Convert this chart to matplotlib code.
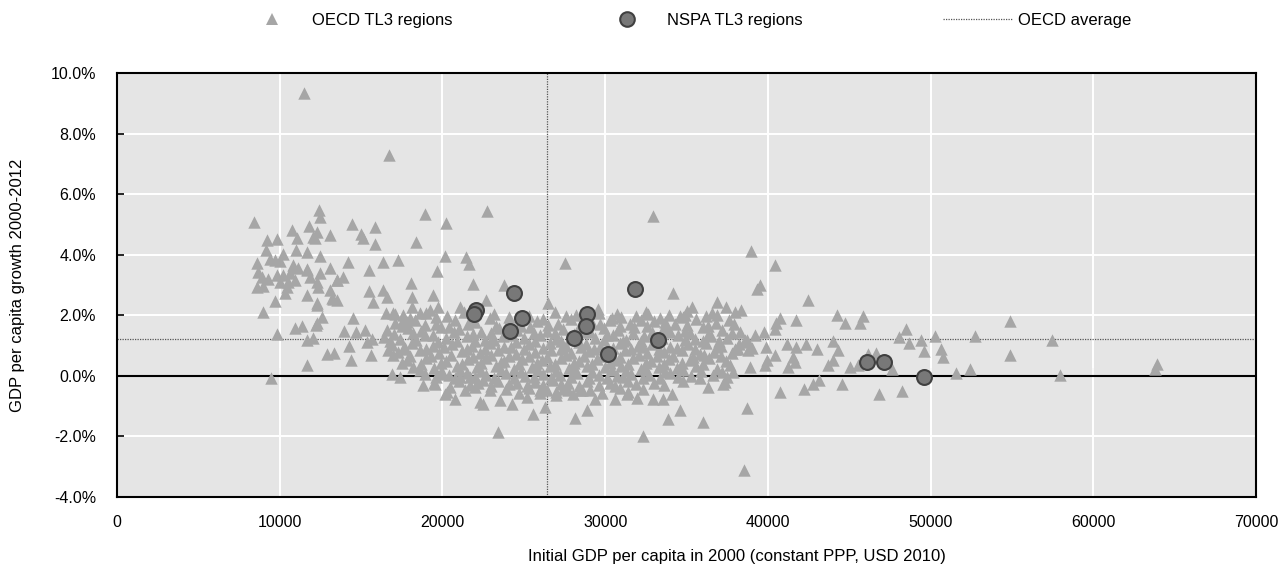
import numpy as np
import matplotlib
matplotlib.use("Agg")
import matplotlib.pyplot as plt
from matplotlib.ticker import FuncFormatter
from matplotlib.lines import Line2D

plt.rcParams['font.family'] = ['Liberation Sans', 'DejaVu Sans']
plt.rcParams['axes.unicode_minus'] = False

# OECD TL3 regions: (initial GDP per capita 2000 in thousand USD, growth 2000-2012 in %)
oecd_sparse = [
    (11.5, 9.33), (16.7, 7.29), (8.42, 5.08), (12.41, 5.47), (12.47, 5.25), (11.8, 4.95),
    (14.45, 5.03), (15.85, 4.90), (14.97, 4.70), (15.13, 4.54), (15.85, 4.37), (10.73, 4.81),
    (13.09, 4.66), (12.27, 4.76), (12.17, 4.54), (9.2, 4.48), (9.81, 4.51), (11.04, 4.54),
    (12.06, 4.58), (9.13, 4.14), (10.98, 4.16), (11.65, 4.09), (12.47, 3.95), (16.36, 3.76),
    (17.24, 3.83), (14.21, 3.76), (15.5, 3.48), (13.09, 3.56), (8.58, 3.71), (10.02, 3.80),
    (11.65, 3.54), (10.83, 3.60), (10.22, 4.04), (18.9, 5.36), (20.23, 5.06), (22.71, 5.45),
    (18.37, 4.42), (20.15, 3.96), (21.44, 3.93), (21.65, 3.70), (19.64, 3.45), (32.95, 5.29),
    (27.54, 3.72), (38.95, 4.13), (40.45, 3.65), (8.68, 3.43), (8.89, 3.27), (9.4, 3.87),
    (9.71, 3.82), (10.8, 3.65), (11.14, 3.56), (11.7, 3.49), (12.47, 3.38), (13.54, 3.18),
    (13.91, 3.25), (9.3, 3.21), (9.81, 3.32), (10.22, 3.32), (10.63, 3.38), (10.02, 3.10),
    (10.53, 3.10), (10.94, 3.16), (8.58, 2.94), (8.99, 2.96), (10.42, 2.94), (11.86, 3.27),
    (12.31, 3.10), (12.35, 2.94), (11.7, 2.66), (13.09, 2.83), (13.19, 2.58), (13.5, 2.50),
    (10.32, 2.72), (9.71, 2.46), (8.99, 2.11), (12.31, 2.35), (12.58, 1.94), (12.23, 1.69),
    (14.5, 1.92), (15.5, 2.79), (15.75, 2.44), (16.36, 2.83), (16.57, 2.61), (16.51, 2.08),
    (17.08, 2.03), (18.06, 3.05), (18.1, 2.61), (19.4, 2.66), (21.89, 3.02), (18.1, 2.27),
    (18.62, 2.06), (19.23, 2.17), (19.74, 2.27), (21.1, 2.27), (17.8, 1.78), (9.85, 1.38),
    (10.94, 1.59), (11.35, 1.65), (11.7, 1.20), (12.06, 1.26), (12.89, 0.73), (13.33, 0.75),
    (13.95, 1.48), (14.27, 0.98), (14.36, 0.51), (14.68, 1.45), (15.24, 1.50), (15.34, 1.12),
    (15.65, 1.23), (15.58, 0.70), (11.7, 0.35), (9.44, -0.06), (16.88, 0.07), (17.39, -0.04),
    (16.67, 0.84), (16.98, 0.68), (17.59, 0.90), (12.27, 1.73), (12.27, 2.39), (13.29, 2.55),
    (13.5, 3.16), (22.67, 2.50), (23.78, 2.99), (26.5, 2.41), (34.18, 2.72), (35.31, 2.27),
    (36.88, 2.44), (37.42, 2.27), (29.57, 2.22), (30.7, 2.03), (32.64, 2.03), (33.67, 1.78),
    (34.8, 1.94), (36.54, 2.06), (37.97, 2.11), (16.98, 2.06), (17.59, 1.83), (34.9, 2.0),
]

oecd_low = [
    (23.43, -1.86), (25.58, -1.25), (26.3, -1.03), (28.14, -1.38), (28.86, -1.14), (30.6, -0.75),
    (32.34, -1.97), (33.87, -1.42), (34.59, -1.14), (36.03, -1.53), (24.25, -0.92), (23.53, -0.81),
    (22.51, -0.92), (22.92, -0.48), (25.17, -0.70), (27.01, -0.64), (27.73, -0.48), (29.37, -0.75),
    (31.32, -0.59), (31.93, -0.72), (32.95, -0.75), (33.53, -0.75), (34.08, -0.59), (36.33, -0.37),
    (37.36, -0.20), (25.99, -0.48), (28.45, -0.48), (29.06, -0.48), (18.78, -0.31), (19.48, -0.24),
    (20.26, -0.53), (20.77, -0.75), (21.38, -0.46), (22.0, -0.37), (22.3, -0.87), (21.07, -0.04),
    (21.69, -0.04), (22.51, -0.15), (20.05, 0.07), (19.54, -0.26), (20.46, -0.37), (20.15, -0.59),
]

oecd_right = [
    (39.5, 2.99), (39.34, 2.88), (42.48, 2.50), (38.34, 2.17), (40.74, 1.92), (41.76, 1.83),
    (44.22, 2.0), (44.77, 1.75), (45.65, 1.73), (45.85, 1.97), (48.51, 1.56), (48.04, 1.28),
    (48.68, 1.08), (49.4, 1.17), (50.26, 1.31), (49.58, 0.81), (50.67, 0.90), (50.77, 0.62),
    (51.59, 0.09), (52.41, 0.21), (52.72, 1.31), (46.82, -0.59), (48.27, -0.50), (46.16, 0.73),
    (46.67, 0.75), (47.6, 0.24), (45.04, 0.29), (44.53, -0.26), (45.55, 0.35), (43.7, 0.35),
    (44.01, 0.51), (44.32, 0.84), (44.01, 1.15), (43.03, 0.90), (42.37, 1.06), (41.76, 0.95),
    (41.15, 1.06), (41.56, 0.62), (41.66, 0.46), (41.25, 0.29), (40.43, 0.68), (39.92, 0.51),
    (39.81, 0.35), (39.87, 0.95), (39.75, 1.45), (40.43, 1.56), (40.53, 1.73), (38.59, 1.17),
    (38.79, 0.84), (38.18, 0.90), (38.89, 0.29), (37.87, 0.13), (37.46, -0.04), (37.25, -0.26),
    (40.74, -0.53), (42.23, -0.42), (42.78, -0.26), (43.15, -0.15), (38.73, -1.06), (38.52, -3.10),
    (54.87, 1.81), (57.49, 1.20), (54.87, 0.68), (57.96, 0.02), (63.9, 0.40), (63.79, 0.21),
]

oecd_band = [
    (17.6, 2.02), (19.0, 2.08), (20.3, 1.98), (21.3, 2.10), (23.2, 2.04), (25.3, 1.96), (26.9, 2.12),
    (28.2, 2.00), (29.6, 2.06), (31.0, 1.95), (32.5, 2.10), (33.9, 2.02), (35.0, 2.14), (36.2, 1.98),
    (17.1, 1.76), (18.3, 1.84), (19.6, 1.72), (20.8, 1.86), (22.0, 1.78), (22.9, 1.90), (24.0, 1.74),
    (25.8, 1.82), (27.1, 1.70), (27.9, 1.88), (29.2, 1.76), (30.3, 1.84), (31.5, 1.72), (32.2, 1.86),
    (33.0, 1.80), (34.3, 1.70), (35.6, 1.88), (36.8, 1.76), (37.6, 1.84),
    (16.6, 1.52), (17.9, 1.58), (18.7, 1.48), (19.9, 1.60), (21.0, 1.54), (22.4, 1.46), (23.5, 1.58),
    (24.6, 1.50), (25.4, 1.62), (26.4, 1.48), (27.4, 1.56), (28.6, 1.44), (29.9, 1.58), (30.8, 1.50),
    (31.8, 1.60), (32.9, 1.46), (33.8, 1.56), (34.9, 1.48), (36.0, 1.60), (37.2, 1.52), (38.3, 1.44),
    (16.4, 1.28), (17.4, 1.22), (18.9, 1.34), (20.2, 1.26), (21.5, 1.32), (22.6, 1.20), (23.7, 1.30),
    (25.0, 1.24), (26.0, 1.36), (27.0, 1.22), (28.0, 1.32), (29.4, 1.26), (30.5, 1.34), (31.3, 1.20),
    (32.4, 1.30), (33.5, 1.24), (34.5, 1.36), (35.5, 1.22), (36.5, 1.30), (37.5, 1.26), (38.7, 1.18),
    (16.9, 1.02), (18.1, 1.08), (19.4, 0.98), (20.6, 1.06), (21.8, 1.00), (22.9, 1.10), (24.2, 0.96),
    (25.3, 1.04), (26.6, 1.10), (27.6, 0.98), (28.8, 1.06), (29.7, 0.96), (30.9, 1.08), (32.0, 1.00),
    (32.9, 1.06), (34.0, 0.96), (35.1, 1.04), (36.2, 1.10), (37.1, 0.98), (38.2, 1.04), (39.0, 0.92),
    (17.3, 0.78), (18.6, 0.84), (19.8, 0.74), (21.2, 0.82), (22.3, 0.76), (23.4, 0.86), (24.5, 0.72),
    (25.7, 0.80), (26.7, 0.84), (27.9, 0.74), (29.0, 0.82), (30.1, 0.78), (31.2, 0.86), (32.6, 0.74),
    (33.6, 0.80), (34.7, 0.84), (35.8, 0.72), (36.7, 0.80), (37.8, 0.76),
    (17.8, 0.54), (19.0, 0.58), (20.2, 0.50), (21.6, 0.56), (22.7, 0.60), (23.8, 0.50), (24.9, 0.56),
    (26.1, 0.52), (27.3, 0.60), (28.4, 0.48), (29.5, 0.56), (30.6, 0.52), (31.7, 0.58), (32.8, 0.50),
    (33.9, 0.56), (35.2, 0.52), (36.4, 0.58), (37.4, 0.48),
    (18.2, 0.30), (19.5, 0.26), (20.9, 0.34), (22.1, 0.28), (23.3, 0.32), (24.4, 0.24), (25.5, 0.30),
    (26.6, 0.34), (27.8, 0.26), (28.9, 0.32), (30.0, 0.28), (31.0, 0.34), (32.2, 0.24), (33.3, 0.30),
    (34.4, 0.26), (35.6, 0.32), (36.9, 0.22),
    (18.9, 0.06), (20.4, 0.02), (21.5, 0.08), (22.7, 0.04), (23.9, 0.10), (25.1, 0.00), (26.2, 0.06),
    (27.2, 0.02), (28.3, 0.08), (29.6, 0.04), (30.7, 0.00), (31.6, 0.06), (32.7, 0.02), (34.0, 0.08),
    (35.3, 0.00), (36.6, 0.04),
    (21.0, -0.18), (22.2, -0.22), (23.4, -0.16), (24.6, -0.24), (25.7, -0.20), (26.8, -0.14),
    (27.7, -0.22), (28.9, -0.18), (30.3, -0.24), (31.4, -0.16), (33.0, -0.22), (34.8, -0.18),
    (23.9, -0.44), (25.3, -0.40), (26.4, -0.48), (27.4, -0.42), (28.6, -0.46), (30.9, -0.40), (32.3, -0.44),
]

oecd_band_mid = [
    (18.0, 1.92), (19.6, 1.95), (21.8, 1.90), (24.1, 1.94), (26.2, 1.88), (27.6, 1.96), (30.4, 1.92),
    (31.9, 1.98), (33.4, 1.90), (34.6, 1.96), (36.9, 2.02),
    (17.5, 1.64), (18.9, 1.68), (20.4, 1.62), (21.6, 1.70), (23.3, 1.66), (24.8, 1.64), (26.5, 1.68),
    (28.4, 1.62), (29.7, 1.70), (30.9, 1.64), (32.6, 1.66), (33.6, 1.62), (35.0, 1.68), (36.3, 1.64),
    (37.9, 1.70),
    (17.0, 1.38), (18.2, 1.42), (19.4, 1.36), (20.7, 1.44), (21.9, 1.38), (23.0, 1.42), (24.3, 1.36),
    (25.6, 1.42), (26.9, 1.40), (28.1, 1.38), (29.1, 1.44), (30.1, 1.36), (31.7, 1.42), (32.9, 1.38),
    (34.0, 1.44), (35.2, 1.40), (36.3, 1.36), (37.8, 1.42), (39.2, 1.34),
    (16.8, 1.14), (18.4, 1.18), (19.7, 1.12), (20.9, 1.16), (22.0, 1.14), (23.2, 1.18), (24.5, 1.12),
    (25.7, 1.16), (27.3, 1.14), (28.4, 1.12), (29.9, 1.18), (31.1, 1.14), (32.2, 1.16), (33.1, 1.12),
    (34.9, 1.18), (36.0, 1.14), (37.0, 1.16), (38.6, 1.12),
    (17.7, 0.92), (19.0, 0.88), (20.1, 0.94), (21.5, 0.90), (22.6, 0.88), (23.8, 0.94), (25.0, 0.90),
    (26.2, 0.92), (27.3, 0.88), (28.5, 0.94), (29.3, 0.90), (30.5, 0.92), (31.6, 0.88), (32.3, 0.94),
    (33.3, 0.90), (34.4, 0.92), (35.5, 0.88), (36.9, 0.94), (38.0, 0.90),
    (18.0, 0.66), (19.3, 0.64), (20.5, 0.68), (21.9, 0.62), (23.0, 0.68), (24.1, 0.64), (25.3, 0.66),
    (26.4, 0.62), (27.6, 0.68), (28.7, 0.64), (29.8, 0.66), (30.9, 0.62), (32.1, 0.68), (33.2, 0.64),
    (34.2, 0.66), (35.4, 0.62), (36.1, 0.68), (37.1, 0.64),
    (17.5, 0.42), (18.7, 0.40), (19.9, 0.44), (21.2, 0.38), (22.4, 0.42), (23.6, 0.46), (24.7, 0.40),
    (25.8, 0.44), (26.9, 0.38), (28.1, 0.42), (29.2, 0.40), (30.3, 0.44), (31.4, 0.38), (32.5, 0.42),
    (33.6, 0.40), (34.7, 0.44), (36.0, 0.40), (37.7, 0.36),
    (18.6, 0.18), (19.9, 0.14), (21.1, 0.20), (22.4, 0.16), (23.6, 0.20), (24.8, 0.14), (25.9, 0.18),
    (27.0, 0.16), (28.1, 0.20), (29.2, 0.14), (30.4, 0.18), (31.3, 0.16), (32.5, 0.20), (33.7, 0.14),
    (34.8, 0.18), (35.9, 0.16), (37.2, 0.12),
    (19.6, -0.04), (20.8, -0.08), (22.0, -0.04), (23.2, -0.08), (24.4, -0.06), (25.6, -0.04),
    (26.7, -0.08), (27.9, -0.04), (29.0, -0.06), (30.1, -0.08), (31.1, -0.04), (32.3, -0.06),
    (33.4, -0.08), (34.5, -0.04), (35.8, -0.06),
    (21.7, -0.30), (23.0, -0.32), (24.1, -0.28), (25.2, -0.34), (26.2, -0.30), (27.3, -0.28),
    (28.4, -0.32), (29.6, -0.30), (30.6, -0.34), (31.9, -0.28), (33.6, -0.30),
    (24.7, -0.56), (26.0, -0.58), (27.0, -0.54), (28.0, -0.60), (29.8, -0.56), (31.4, -0.52),
]

# NSPA TL3 regions
nspa_gdp_k = [24.41, 22.04, 21.95, 24.90, 24.15, 28.86, 28.82, 28.10, 31.83, 30.19, 33.24, 46.10, 47.15, 49.61]
nspa_growth = [2.72, 2.17, 2.03, 1.91, 1.48, 2.04, 1.64, 1.26, 2.86, 0.72, 1.17, 0.47, 0.45, -0.05]

# OECD averages
oecd_avg_gdp = 26400
oecd_avg_growth = 1.22

x_ticks = [0, 10000, 20000, 30000, 40000, 50000, 60000, 70000]
y_ticks = [-4, -2, 0, 2, 4, 6, 8, 10]

oecd_all = oecd_sparse + oecd_low + oecd_right + oecd_band + oecd_band_mid
ox = np.array([p[0] for p in oecd_all]) * 1000
oy = np.array([p[1] for p in oecd_all])
nx = np.array(nspa_gdp_k) * 1000
ny = np.array(nspa_growth)

fig = plt.figure(figsize=(12.81, 5.70), dpi=100)
ax = fig.add_axes([117 / 1281, 1 - 497 / 570, (1256 - 117) / 1281, (497 - 73) / 570])
ax.set_facecolor('#e5e5e5')
ax.set_xlim(0, 70000)
ax.set_ylim(-4, 10)
ax.set_xticks(x_ticks)
ax.set_yticks(y_ticks)
ax.yaxis.set_major_formatter(FuncFormatter(lambda v, _: f"{v:.1f}%"))
ax.grid(color='white', linewidth=1.4)
ax.set_axisbelow(True)
for s in ax.spines.values():
    s.set_linewidth(1.5)
    s.set_color('black')

ax.axhline(0, color='black', linewidth=1.5, zorder=2)
ax.axvline(oecd_avg_gdp, color='#555555', linewidth=0.9, linestyle=(0, (1, 1)), zorder=2)
ax.axhline(oecd_avg_growth, color='#555555', linewidth=0.9, linestyle=(0, (1, 1)), zorder=2)

ax.scatter(ox, oy, marker='^', s=80, color='#a6a6a6', linewidths=0, zorder=3)
ax.scatter(nx, ny, marker='o', s=115, color='#787878', edgecolors='#404040', linewidths=1.5, zorder=4)

ax.tick_params(axis='y', direction='in', length=5, width=1.2, labelsize=11.5, pad=15)
ax.tick_params(axis='x', length=0, labelsize=11.5, pad=13)

# ticks on the zero line
y0, y1 = ax.get_ylim()
sec = ax.secondary_xaxis((0 - y0) / (y1 - y0))
sec.set_xticks(x_ticks)
sec.tick_params(direction='in', length=6, width=1.2, labelbottom=False)
sec.spines['bottom'].set_visible(False)

fig.text(737 / 1281, 1 - 556 / 570, 'Initial GDP per capita in 2000 (constant PPP, USD 2010)',
         ha='center', va='center', fontsize=12)
fig.text(18 / 1281, 1 - 285 / 570, 'GDP per capita growth 2000-2012',
         ha='center', va='center', rotation=90, fontsize=12)

handles = [
    Line2D([], [], marker='^', linestyle='none', markersize=9, markerfacecolor='#a6a6a6', markeredgewidth=0),
    Line2D([], [], marker='o', linestyle='none', markersize=10.5, markerfacecolor='#787878',
           markeredgecolor='#404040', markeredgewidth=1.5),
    Line2D([], [], color='#555555', linewidth=0.9, linestyle=(0, (1, 1))),
]
fig.legend(handles, ['OECD TL3 regions', 'NSPA TL3 regions', 'OECD average'], ncol=3,
           loc='center', bbox_to_anchor=(0.534, 1 - 20 / 570), frameon=False, fontsize=12,
           handlelength=4.2, handletextpad=0.3, columnspacing=8.4)

fig.savefig('out.png', dpi=100)
